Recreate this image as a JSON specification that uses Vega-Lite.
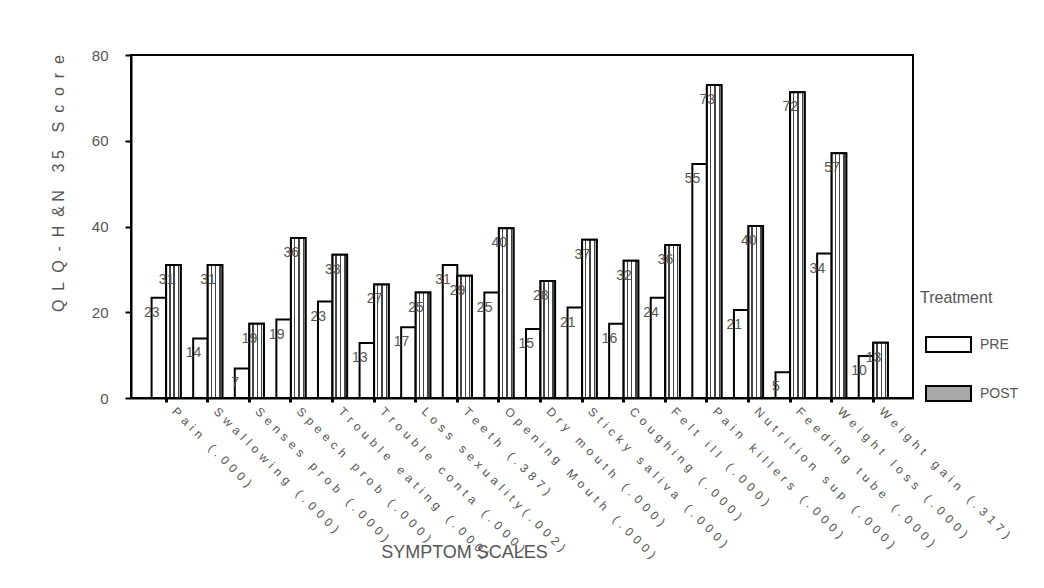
{
  "$schema": "https://vega.github.io/schema/vega-lite/v6.json",
  "width": 782,
  "height": 343,
  "autosize": {"type": "none"},
  "padding": {"left": 131, "top": 55, "right": 131, "bottom": 190},
  "background": "white",
  "config": {
    "font": "Liberation Sans",
    "view": {"stroke": "black", "strokeWidth": 2}
  },
  "data": {
    "values": [
      {"symptom": "Pain (.000)", "treatment": "PRE", "score": 23.4, "label": "23"},
      {"symptom": "Pain (.000)", "treatment": "POST", "score": 31, "label": "31"},
      {"symptom": "Swallowing (.000)", "treatment": "PRE", "score": 13.9, "label": "14"},
      {"symptom": "Swallowing (.000)", "treatment": "POST", "score": 31, "label": "31"},
      {"symptom": "Senses prob (.000)", "treatment": "PRE", "score": 6.9, "label": "7"},
      {"symptom": "Senses prob (.000)", "treatment": "POST", "score": 17.3, "label": "19"},
      {"symptom": "Speech prob (.000)", "treatment": "PRE", "score": 18.3, "label": "19"},
      {"symptom": "Speech prob (.000)", "treatment": "POST", "score": 37.3, "label": "36"},
      {"symptom": "Trouble eating (.000)", "treatment": "PRE", "score": 22.5, "label": "23"},
      {"symptom": "Trouble eating (.000)", "treatment": "POST", "score": 33.4, "label": "33"},
      {"symptom": "Trouble conta (.000)", "treatment": "PRE", "score": 12.8, "label": "13"},
      {"symptom": "Trouble conta (.000)", "treatment": "POST", "score": 26.5, "label": "27"},
      {"symptom": "Loss sexuality(.002)", "treatment": "PRE", "score": 16.5, "label": "17"},
      {"symptom": "Loss sexuality(.002)", "treatment": "POST", "score": 24.6, "label": "25"},
      {"symptom": "Teeth (.387)", "treatment": "PRE", "score": 31, "label": "31"},
      {"symptom": "Teeth (.387)", "treatment": "POST", "score": 28.5, "label": "29"},
      {"symptom": "Opening Mouth (.000)", "treatment": "PRE", "score": 24.6, "label": "25"},
      {"symptom": "Opening Mouth (.000)", "treatment": "POST", "score": 39.6, "label": "40"},
      {"symptom": "Dry mouth (.000)", "treatment": "PRE", "score": 16.1, "label": "15"},
      {"symptom": "Dry mouth (.000)", "treatment": "POST", "score": 27.3, "label": "28"},
      {"symptom": "Sticky saliva (.000)", "treatment": "PRE", "score": 21.1, "label": "21"},
      {"symptom": "Sticky saliva (.000)", "treatment": "POST", "score": 36.9, "label": "37"},
      {"symptom": "Coughing (.000)", "treatment": "PRE", "score": 17.3, "label": "16"},
      {"symptom": "Coughing (.000)", "treatment": "POST", "score": 32, "label": "32"},
      {"symptom": "Felt ill (.000)", "treatment": "PRE", "score": 23.4, "label": "24"},
      {"symptom": "Felt ill (.000)", "treatment": "POST", "score": 35.7, "label": "36"},
      {"symptom": "Pain killers (.000)", "treatment": "PRE", "score": 54.6, "label": "55"},
      {"symptom": "Pain killers (.000)", "treatment": "POST", "score": 73, "label": "73"},
      {"symptom": "Nutrition sup (.000)", "treatment": "PRE", "score": 20.5, "label": "21"},
      {"symptom": "Nutrition sup (.000)", "treatment": "POST", "score": 40.1, "label": "40"},
      {"symptom": "Feeding tube (.000)", "treatment": "PRE", "score": 6, "label": "5"},
      {"symptom": "Feeding tube (.000)", "treatment": "POST", "score": 71.3, "label": "72"},
      {"symptom": "Weight loss (.000)", "treatment": "PRE", "score": 33.7, "label": "34"},
      {"symptom": "Weight loss (.000)", "treatment": "POST", "score": 57.1, "label": "57"},
      {"symptom": "Weight gain (.317)", "treatment": "PRE", "score": 9.8, "label": "10"},
      {"symptom": "Weight gain (.317)", "treatment": "POST", "score": 12.9, "label": "13"}
    ]
  },
  "encoding": {
    "x": {
      "field": "symptom",
      "type": "nominal",
      "sort": null,
      "scale": {"paddingInner": 0.3, "paddingOuter": 0.55, "align": 0.45},
      "axis": {
        "labelAngle": 45,
        "labelAlign": "left",
        "labelBaseline": "middle",
        "labelPadding": 7,
        "labelOffset": 8,
        "labelFontSize": 12,
        "labelColor": "#555555",
        "labelLimit": 400,
        "labelExpr": "join(split(replace(datum.label, ' ', '\u00a0'), ''), '\u2009\u2009')",
        "domainColor": "black",
        "domainWidth": 2,
        "tickColor": "black",
        "tickSize": 4,
        "tickWidth": 3,
        "title": "SYMPTOM SCALES",
        "titleFontSize": 18,
        "titleFontWeight": "normal",
        "titleColor": "#555555",
        "titleX": 333,
        "titleY": 154,
        "titleBaseline": "middle"
      }
    },
    "xOffset": {
      "field": "treatment",
      "type": "nominal",
      "scale": {"domain": ["PRE", "POST"], "paddingInner": 0, "paddingOuter": 0}
    },
    "y": {
      "field": "score",
      "type": "quantitative",
      "scale": {"domain": [0, 80]},
      "axis": {
        "values": [0, 20, 40, 60, 80],
        "grid": false,
        "domainColor": "black",
        "domainWidth": 2,
        "tickColor": "black",
        "tickSize": 6,
        "tickWidth": 2,
        "labelPadding": 17,
        "labelFontSize": 15,
        "labelColor": "#555555",
        "title": "Q\u00a0 L\u00a0 Q\u00a0 -\u00a0 H\u00a0 &\u00a0N\u00a0 \u00a0 3\u00a05\u00a0 \u00a0 S\u00a0 c\u00a0 o\u00a0 r\u00a0 e",
        "titleFontSize": 16,
        "titleFontWeight": "normal",
        "titleColor": "#555555",
        "titleX": -73,
        "titleY": 128,
        "titleBaseline": "middle",
        "titleAlign": "center"
      }
    }
  },
  "layer": [
    {
      "mark": {"type": "bar", "stroke": "black", "strokeWidth": 2},
      "encoding": {
        "fill": {
          "field": "treatment",
          "type": "nominal",
          "scale": {"domain": ["PRE", "POST"], "range": ["#ffffff", "#a8a8a8"]},
          "legend": {
            "orient": "none",
            "legendX": 789,
            "legendY": 235,
            "title": "Treatment",
            "titleFontSize": 16,
            "titleFontWeight": "normal",
            "titleColor": "#555555",
            "titlePadding": 30,
            "symbolType": "M-3,-1H3V1H-3Z",
            "symbolSize": 225,
            "symbolStrokeColor": "black",
            "symbolStrokeWidth": 2,
            "symbolOffset": 20,
            "labelOffset": 23,
            "labelFontSize": 14,
            "labelColor": "#555555",
            "rowPadding": 26
          }
        }
      }
    },
    {
      "transform": [{"filter": "datum.treatment === 'POST'"}],
      "mark": {
        "type": "bar",
        "stroke": "black",
        "strokeWidth": 2,
        "fill": {
          "gradient": "linear",
          "x1": 0, "y1": 0, "x2": 1, "y2": 0,
          "stops": [
            {"offset": 0, "color": "#ffffff"},
            {"offset": 0.2, "color": "#ffffff"},
            {"offset": 0.2, "color": "#444444"},
            {"offset": 0.3, "color": "#444444"},
            {"offset": 0.3, "color": "#ffffff"},
            {"offset": 0.5, "color": "#ffffff"},
            {"offset": 0.5, "color": "#444444"},
            {"offset": 0.6, "color": "#444444"},
            {"offset": 0.6, "color": "#ffffff"},
            {"offset": 0.8, "color": "#ffffff"},
            {"offset": 0.8, "color": "#444444"},
            {"offset": 0.9, "color": "#444444"},
            {"offset": 0.9, "color": "#ffffff"},
            {"offset": 1, "color": "#ffffff"}
          ]
        }
      }
    },
    {
      "mark": {
        "type": "text",
        "dx": -7,
        "dy": 15,
        "align": "center",
        "baseline": "middle",
        "fontSize": 14,
        "color": "#555555"
      },
      "encoding": {"text": {"field": "label"}}
    }
  ]
}
